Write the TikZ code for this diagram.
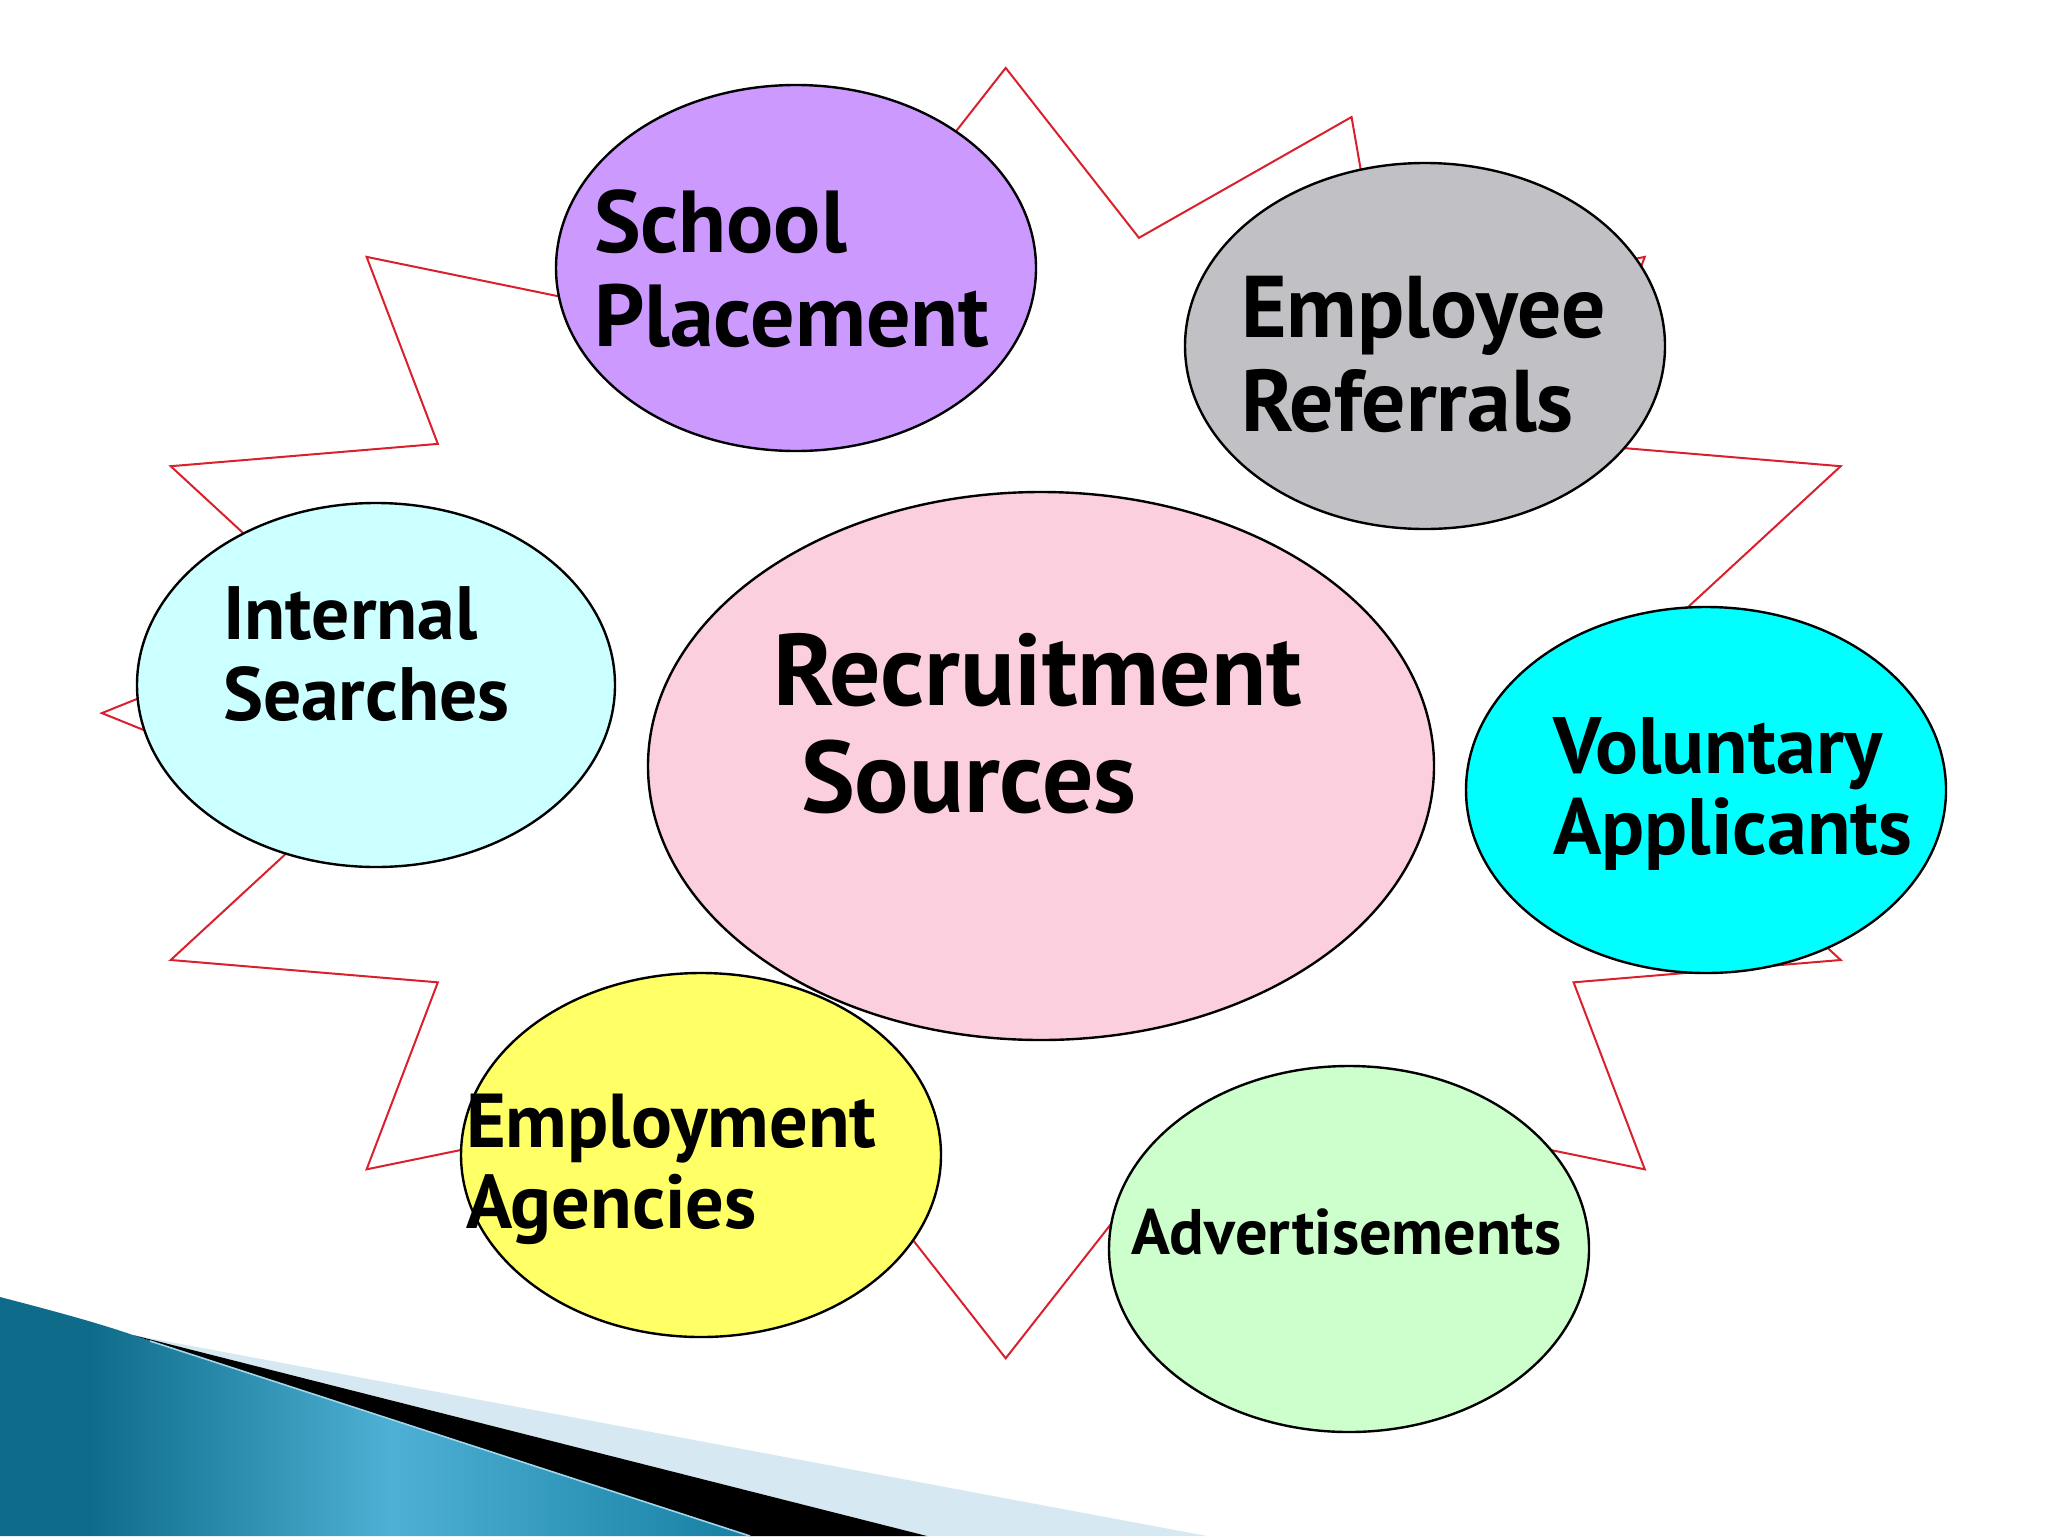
\documentclass[tikz,border=0pt]{standalone}
\usepackage{fontspec}
\setmainfont{PT Sans}
\usetikzlibrary{shapes.geometric}
\definecolor{spc}{RGB}{204,153,255}
\definecolor{erc}{RGB}{193,192,196}
\definecolor{isc}{RGB}{204,255,255}
\definecolor{rsc}{RGB}{251,207,221}
\definecolor{vac}{RGB}{0,255,255}
\definecolor{eac}{RGB}{255,255,102}
\definecolor{adc}{RGB}{204,255,204}
\definecolor{starred}{RGB}{218,32,44}
\definecolor{deepteal}{RGB}{14,108,138}
\definecolor{liteteal}{RGB}{78,176,212}
\definecolor{midteal}{RGB}{22,128,162}
\definecolor{paleblue}{RGB}{214,232,241}
\definecolor{edgeblue}{RGB}{160,215,235}
\pgfdeclarehorizontalshading{blueswoosh}{100bp}{color(0bp)=(deepteal); color(25bp)=(deepteal); color(31bp)=(deepteal); color(51bp)=(liteteal); color(75bp)=(midteal); color(100bp)=(midteal)}
\tikzset{
  bubble/.style={ellipse, draw=black, line width=1.2pt, inner sep=0pt, outer sep=0pt},
  lbl/.style={anchor=base west, inner sep=0pt, outer sep=0pt, text=black},
  starline/.style={draw=starred, line width=1pt, line join=miter},
}
\begin{document}
\begin{tikzpicture}[x=0.5pt,y=-0.5pt]
\useasboundingbox (0,0) rectangle (2048,1536);
\fill[white] (0,0) rectangle (2048,1536);
% bottom-left decoration
\shade[shading=blueswoosh]
  (0,1297) .. controls (50,1310) and (95,1322) .. (133,1335) -- (750,1536) -- (0,1536) -- cycle;
\fill[paleblue] (133,1335) -- (1207,1536) -- (927,1536) -- cycle;
\fill[black] (133,1335) -- (927,1536) -- (750,1536) -- cycle;
\draw[edgeblue, line width=0.8pt] (150,1341) -- (750,1536);
% star outline
\draw[starline] plot[samples at={0,...,31}, variable=\i]
  ({1005.7+ifthenelse(mod(\i,2)==0,903.8,683)*cos(90-\i*11.25)},
   {713.1-ifthenelse(mod(\i,2)==0,645.2,484.6)*sin(90-\i*11.25)}) -- cycle;
% ellipses
\node[bubble, fill=spc, minimum width=240pt, minimum height=183pt] (sp) at (796,268) {};
\node[bubble, fill=erc, minimum width=240pt, minimum height=183pt] (er) at (1425,346) {};
\node[bubble, fill=isc, minimum width=239pt, minimum height=182pt] (is) at (376,685) {};
\node[bubble, fill=rsc, minimum width=393pt, minimum height=274pt] (rs) at (1041,766) {};
\node[bubble, fill=vac, minimum width=240pt, minimum height=183pt] (va) at (1706,790) {};
\node[bubble, fill=eac, minimum width=240pt, minimum height=182pt] (ea) at (701,1155) {};
\node[bubble, fill=adc, minimum width=240pt, minimum height=183pt] (ad) at (1349,1249) {};
% labels
\node[lbl, font=\fontsize{44}{53}\selectfont\bfseries] (sp1) at (594,252) {School};
\node[lbl, font=\fontsize{44}{53}\selectfont\bfseries] (sp2) at (594,346) {Placement};
\node[lbl, font=\fontsize{43.8}{52}\selectfont\bfseries] (er1) at (1241,337) {Employee};
\node[lbl, font=\fontsize{43.8}{52}\selectfont\bfseries] (er2) at (1241,431) {Referrals};
\node[lbl, font=\fontsize{37.8}{46}\selectfont\bfseries] (is1) at (223,639) {Internal};
\node[lbl, font=\fontsize{37.8}{46}\selectfont\bfseries] (is2) at (223,720) {Searches};
\node[lbl, font=\fontsize{50.8}{60}\selectfont\bfseries] (rs1) at (773,705) {Recruitment};
\node[lbl, font=\fontsize{50.8}{60}\selectfont\bfseries] (rs2) at (801,812) {Sources};
\node[lbl, font=\fontsize{40}{48}\selectfont\bfseries] (va1) at (1553,773) {Voluntary};
\node[lbl, font=\fontsize{40}{48}\selectfont\bfseries] (va2) at (1553,854) {Applicants};
\node[lbl, font=\fontsize{38.2}{46}\selectfont\bfseries] (ea1) at (466,1147) {Employment};
\node[lbl, font=\fontsize{38.2}{46}\selectfont\bfseries] (ea2) at (466,1228) {Agencies};
\node[lbl, font=\fontsize{32.2}{39}\selectfont\bfseries] (ad1) at (1131,1254) {Advertisements};
\end{tikzpicture}
\end{document}
